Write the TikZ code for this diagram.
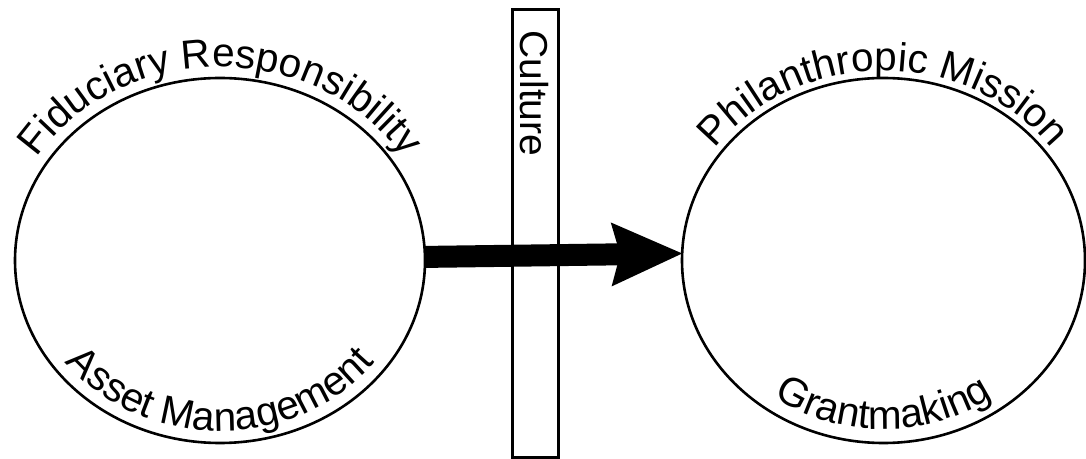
\documentclass[tikz,border=0pt]{standalone}
\usepackage{fontspec}
\setmainfont{Liberation Sans}
\usetikzlibrary{shapes.geometric,arrows.meta,decorations.text}
\newcommand\arcfont{\fontsize{40.5}{40.5}\selectfont}
\newcommand\barfont{\fontsize{39}{39}\selectfont}
\tikzset{
  circ/.style={ellipse, draw, line width=2.6pt, inner sep=0pt, outer sep=0pt},
  bararrow/.style={line width=22pt, -{Stealth[length=71pt,width=64pt,inset=9pt,line width=0pt]}},
  barbox/.style={draw, line width=3pt, inner sep=0pt, outer sep=0pt},
  arctext/.style={decorate, decoration={text along path, text align=center, text={#1}}}
}
\begin{document}
\begin{tikzpicture}[x=1pt,y=1pt]
\useasboundingbox (0,0) rectangle (1086,458);
\node[circ, minimum width=410pt, minimum height=365pt] (L) at (220,197.5) {};
\node[circ, minimum width=403pt, minimum height=365pt] (R) at (883.5,197.5) {};
\draw[bararrow] (L.1.5) -- (R.178.4);
\node[barbox, minimum width=46pt, minimum height=447pt] (bar) at (535,224.5) {};
\node[rotate=-90, inner sep=0pt, font=\barfont] (culture) at (534,364.5) {Culture};
\path[arctext={|\arcfont|Fiduciary Responsibility}]
  (L.center) ++(170:216 and 193.5) arc[start angle=170, end angle=10, x radius=216, y radius=193.5];
\path[arctext={|\arcfont|Asset Management}]
  (L.center) ++(190:193 and 170.5) arc[start angle=190, end angle=350, x radius=193, y radius=170.5];
\path[arctext={|\arcfont|Philanthropic Mission}]
  (R.center) ++(170:208.5 and 189.5) arc[start angle=170, end angle=10, x radius=208.5, y radius=189.5];
\path[arctext={|\arcfont|Grantmaking}]
  (R.center) ++(190:187 and 168.5) arc[start angle=190, end angle=350, x radius=187, y radius=168.5];
\end{tikzpicture}
\end{document}
